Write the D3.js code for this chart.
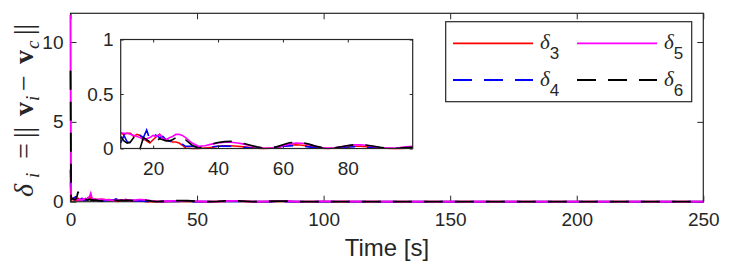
<!DOCTYPE html>
<html>
<head>
<meta charset="utf-8">
<script src="https://cdn.jsdelivr.net/npm/d3@7"></script>
<style>
  body { margin: 0; background: #fff; }
  text { font-family: "Liberation Sans", Arial, sans-serif; fill: #262626; }
  .math { font-family: "Liberation Serif", "DejaVu Serif", serif; }
</style>
</head>
<body>
<svg id="chart" width="731" height="272"></svg>
<script>
// time samples [s]
var time = [0, 0.25, 0.5, 1, 1.5, 2, 2.5, 3, 3.5, 4, 4.5, 5, 5.5, 6, 6.5, 7, 7.5, 8, 8.5, 9, 9.5, 10,
  11, 12, 13, 14, 15, 16, 17, 18, 19, 20, 21, 22, 23, 24, 25, 26, 27, 28, 29, 30,
  32, 34, 36, 38, 40, 42, 44, 46, 48, 50, 52, 54, 56, 58, 60, 62, 64, 66, 68, 70,
  72, 74, 76, 78, 80, 82, 84, 86, 88, 90, 92, 94, 96, 98, 100,
  125, 150, 175, 200, 225, 250];

var delta3 = [1.2, 0.25, 0.15, 0.12, 0.18, 0.1, 0.08, 0.2, 0.15, 0.12, 0.1, 0.14, 0.1, 0.12, 0.16, 0.25, 0.2, 0.3, 0.18, 0.15, 0.16, 0.14,
  0.13, 0.14, 0.14, 0.11, 0.13, 0.12, 0.09, 0.07, 0.05, 0.08, 0.11, 0.13, 0.10, 0.08, 0.07, 0.06, 0.06, 0.05, 0.03, 0.005,
  0.0, 0.0, 0.005, 0.01, 0.02, 0.025, 0.025, 0.02, 0.015, 0.008, 0.003, 0.0, 0.003, 0.01, 0.02, 0.03, 0.035, 0.03, 0.02, 0.01,
  0.003, 0.0, 0.004, 0.01, 0.016, 0.02, 0.02, 0.016, 0.01, 0.005, 0.002, 0.0, 0.0, 0.002, 0.004,
  0.004, 0.003, 0.002, 0.002, 0.001, 0.001];

var delta4 = [2.0, 0.4, 0.2, 0.15, 0.25, 0.3, 0.2, 0.12, 0.1, 0.15, 0.2, 0.1, 0.12, 0.08, 0.15, 0.1, 0.12, 0.09, 0.1, 0.08, 0.06, 0.05,
  0.12, 0.06, 0.05, 0.08, 0.10, 0.12, 0.10, 0.17, 0.08, 0.13, 0.12, 0.10, 0.11, 0.08, 0.07, 0.06, 0.07, 0.06, 0.04, 0.02,
  0.02, 0.015, 0.012, 0.015, 0.02, 0.022, 0.02, 0.016, 0.01, 0.005, 0.002, 0.003, 0.008, 0.014, 0.02, 0.024, 0.025, 0.022, 0.015, 0.008,
  0.003, 0.002, 0.005, 0.01, 0.014, 0.016, 0.015, 0.012, 0.008, 0.004, 0.002, 0.001, 0.002, 0.003, 0.004,
  0.003, 0.002, 0.002, 0.001, 0.001, 0.001];

var delta5 = [11.7, 0.35, 0.2, 0.15, 0.12, 0.2, 0.15, 0.1, 0.12, 0.14, 0.1, 0.18, 0.15, 0.2, 0.12, 0.25, 0.3, 0.52, 0.2, 0.16, 0.15, 0.145,
  0.14, 0.14, 0.13, 0.12, 0.11, 0.10, 0.08, 0.09, 0.10, 0.12, 0.11, 0.13, 0.09, 0.08, 0.10, 0.11, 0.13, 0.13, 0.12, 0.10,
  0.05, 0.02, 0.025, 0.04, 0.05, 0.057, 0.057, 0.05, 0.04, 0.025, 0.012, 0.004, 0.002, 0.01, 0.025, 0.04, 0.05, 0.048, 0.035, 0.02,
  0.008, 0.003, 0.006, 0.015, 0.025, 0.033, 0.034, 0.028, 0.018, 0.008, 0.003, 0.003, 0.008, 0.015, 0.02,
  0.01, 0.006, 0.004, 0.003, 0.002, 0.002];

var delta6 = [8.2, 0.3, 0.15, 0.2, 0.12, 0.15, 0.3, 0.63, 0.2, 0.15, 0.1, 0.12, 0.18, 0.15, 0.1, 0.12, 0.15, 0.1, 0.12, 0.08, 0.1, 0.11,
  0.07, 0.05, 0.06, 0.10, 0.08, 0.003, 0.10, 0.08, 0.06, 0.10, 0.07, 0.09, 0.08, 0.07, 0.07, 0.08, 0.10, 0.12, 0.11, 0.08,
  0.03, 0.003, 0.02, 0.04, 0.055, 0.063, 0.065, 0.058, 0.045, 0.03, 0.015, 0.004, 0.003, 0.015, 0.035, 0.052, 0.06, 0.055, 0.04, 0.022,
  0.008, 0.002, 0.006, 0.016, 0.027, 0.034, 0.035, 0.03, 0.02, 0.01, 0.004, 0.002, 0.004, 0.008, 0.01,
  0.006, 0.004, 0.003, 0.002, 0.002, 0.001];

var seriesNames = ["3", "4", "5", "6"];
var seriesValues = [delta3, delta4, delta5, delta6];
var seriesColors = ["#ff0000", "#0000ff", "#ff00ff", "#000000"];
var seriesDash = [null, "19,12", null, "19,12"];

var mainXTicks = [0, 50, 100, 150, 200, 250];
var mainYTicks = [0, 5, 10];
var insetXTicks = [20, 40, 60, 80];
var insetYTicks = [0, 0.5, 1];

var svg = d3.select("#chart");
var axisColor = "#262626";

// main axes
var x = d3.scaleLinear().domain([0, 250]).range([70.5, 703.3]);
var y = d3.scaleLinear().domain([0, 11.8]).range([201.7, 13.3]);

// inset axes
var ix = d3.scaleLinear().domain([10, 100]).range([120.7, 412.7]);
var iy = d3.scaleLinear().domain([0, 1]).range([148.5, 39.5]);

var series = seriesValues.map(function(vals, k) {
  return {
    name: seriesNames[k],
    color: seriesColors[k],
    dash: seriesDash[k],
    pts: time.map(function(t, i) { return [t, vals[i]]; })
  };
});

var fmt = d3.format("~g");

function drawFrame(g, xs, ys, xt, yt, tick, padX, padY) {
  var x0 = xs.range()[0], x1 = xs.range()[1], y0 = ys.range()[0], y1 = ys.range()[1];
  g.append("g").attr("transform", "translate(0," + y0 + ")")
    .call(d3.axisBottom(xs).tickValues(xt).tickSize(-tick).tickPadding(padX).tickFormat(fmt).tickSizeOuter(0));
  g.append("g").attr("transform", "translate(0," + y1 + ")")
    .call(d3.axisTop(xs).tickValues(xt).tickSize(-tick).tickFormat("").tickSizeOuter(0));
  g.append("g").attr("transform", "translate(" + x0 + ",0)")
    .call(d3.axisLeft(ys).tickValues(yt).tickSize(-tick).tickPadding(padY).tickFormat(fmt).tickSizeOuter(0));
  g.append("g").attr("transform", "translate(" + x1 + ",0)")
    .call(d3.axisRight(ys).tickValues(yt).tickSize(-tick).tickFormat("").tickSizeOuter(0));
  g.selectAll(".domain").remove();
  g.selectAll(".tick line").attr("stroke", axisColor).attr("stroke-width", 1);
  g.selectAll(".tick text").attr("fill", axisColor).style("font-size", "19px")
    .style("font-family", "'Liberation Sans', Arial, sans-serif");
  g.append("rect")
    .attr("x", x0).attr("y", y1).attr("width", x1 - x0).attr("height", y0 - y1)
    .attr("fill", "none").attr("stroke", axisColor).attr("stroke-width", 1.2);
}

function drawLines(g, xs, ys, data, w) {
  var line = d3.line().x(function(d) { return xs(d[0]); }).y(function(d) { return ys(d[1]); });
  g.selectAll("path.series")
    .data(data)
    .enter().append("path")
    .attr("class", "series")
    .attr("d", function(d) { return line(d.pts); })
    .attr("fill", "none")
    .attr("stroke", function(d) { return d.color; })
    .attr("stroke-width", w)
    .attr("stroke-dasharray", function(d) { return d.dash; });
}

var main = svg.append("g");
drawFrame(main, x, y, mainXTicks, mainYTicks, 6, 11, 7);
drawLines(main, x, y, series, 1.8);

// inset
var inset = svg.append("g");
inset.append("rect")
  .attr("x", 120.7).attr("y", 39.5).attr("width", 292).attr("height", 109)
  .attr("fill", "#fff");
var insetData = series.map(function(s) {
  return { name: s.name, color: s.color, dash: s.dash,
    pts: s.pts.filter(function(p) { return p[0] >= 10 && p[0] <= 100; }) };
});
drawLines(inset, ix, iy, insetData, 1.6);
drawFrame(inset, ix, iy, insetXTicks, insetYTicks, 3, 13, 7);

// x label
svg.append("text")
  .attr("x", (70.5 + 703.3) / 2)
  .attr("y", 256)
  .attr("text-anchor", "middle")
  .style("font-size", "24px")
  .text("Time [s]");

// y label: delta_i = ||v_i - v_c||
var yl = svg.append("text")
  .attr("class", "math")
  .attr("transform", "translate(33,197) rotate(-90)")
  .style("font-size", "28px");
var ylParts = [
  { t: "δ", x: 0, it: true },
  { t: "i", x: 19, it: true, sub: true },
  { t: "=", x: 38 },
  { t: "||", x: 59 },
  { t: "v", x: 81, b: true },
  { t: "i", x: 96, it: true, sub: true },
  { t: "−", x: 106 },
  { t: "v", x: 133, b: true },
  { t: "c", x: 148, it: true, sub: true },
  { t: "||", x: 162 }
];
ylParts.forEach(function(p) {
  yl.append("tspan")
    .attr("x", p.x)
    .attr("y", p.sub ? 6 : 0)
    .style("font-style", p.it ? "italic" : null)
    .style("font-weight", p.b ? "bold" : null)
    .style("font-size", p.sub ? "19px" : null)
    .text(p.t);
});

// legend
var leg = svg.append("g");
leg.append("rect")
  .attr("x", 445.7).attr("y", 21.7).attr("width", 246).attr("height", 80)
  .attr("fill", "#fff").attr("stroke", axisColor).attr("stroke-width", 1.2);
var legPos = [[453, 43.3], [453, 80], [577, 43.3], [577, 80]];
series.forEach(function(s, k) {
  var p = legPos[k];
  leg.append("line")
    .attr("x1", p[0]).attr("x2", p[0] + 80).attr("y1", p[1]).attr("y2", p[1])
    .attr("stroke", s.color).attr("stroke-width", 1.8)
    .attr("stroke-dasharray", s.dash);
  var t = leg.append("text").attr("x", p[0] + 87).attr("y", p[1] + 5.5);
  t.append("tspan").attr("class", "math").style("font-style", "italic").style("font-size", "21px").text("δ");
  t.append("tspan").attr("dy", 10).style("font-size", "17px").text(s.name);
});
</script>
</body>
</html>
